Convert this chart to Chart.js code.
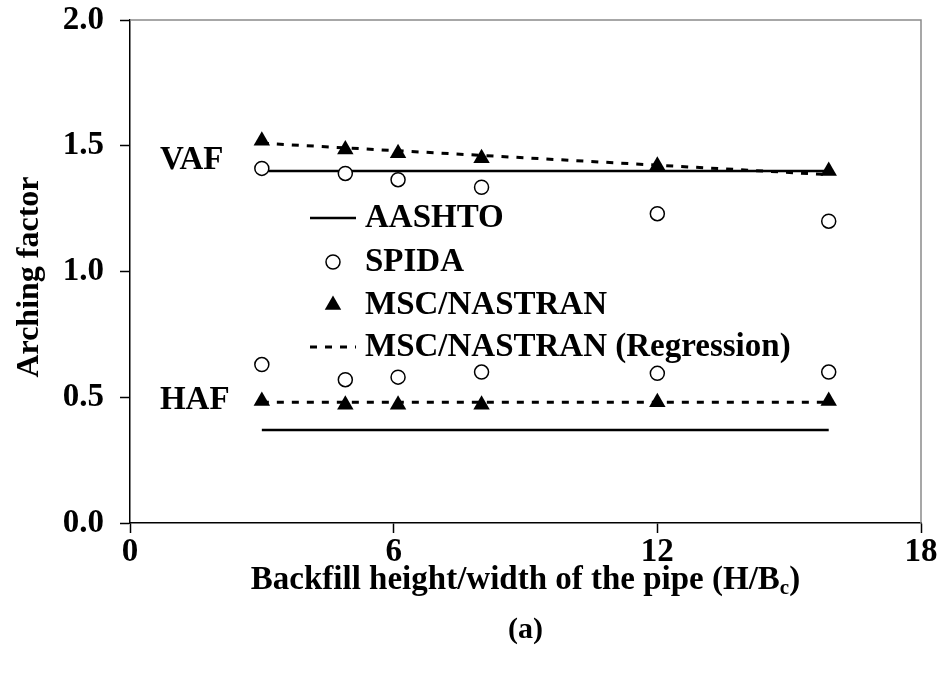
<!DOCTYPE html>
<html>
<head>
<meta charset="utf-8">
<script src="https://cdn.jsdelivr.net/npm/chart.js@4.4.0/dist/chart.umd.min.js"></script>
<style>
    html, body { margin: 0; padding: 0; background: #fff; }
    #wrap { width: 943px; height: 681px; }
</style>
</head>
<body>
<div id="wrap"><canvas id="archChart" width="943" height="681"></canvas></div>
<script>
// backfill height / pipe width (H/Bc)
const ratioX = [3, 4.9, 6.1, 8, 12, 15.9];

// vertical arching factor
const spidaVAF = [1.41, 1.39, 1.365, 1.335, 1.23, 1.20];
const nastranVAF = [1.52, 1.485, 1.47, 1.45, 1.42, 1.40];
// horizontal arching factor
const spidaHAF = [0.63, 0.57, 0.58, 0.60, 0.595, 0.60];
const nastranHAF = [0.485, 0.47, 0.47, 0.47, 0.48, 0.485];

// AASHTO design values and regression end points
const lineX = [3, 15.9];
const aashtoVAF = [1.40, 1.40];
const aashtoHAF = [0.37, 0.37];
const regVAF = [1.51, 1.385];
const regHAF = [0.48, 0.48];

const xTicks = [0, 6, 12, 18];
const yTicks = [0, 0.5, 1.0, 1.5, 2.0];

const legendNames = ["AASHTO", "SPIDA", "MSC/NASTRAN", "MSC/NASTRAN (Regression)"];
const groupLabels = [{ text: "VAF", x: 0.68, y: 1.443 }, { text: "HAF", x: 0.68, y: 0.487 }];

const serif = '"Liberation Serif", "Times New Roman", serif';

function pts(xs, ys) {
    return xs.map(function (x, i) { return { x: x, y: ys[i] }; });
}

const solidLine = { showLine: true, pointRadius: 0, borderColor: '#000', borderWidth: 2.5, fill: false };
const dashLine = { showLine: true, pointRadius: 0, borderColor: '#000', borderWidth: 3, borderDash: [7, 8], fill: false };
const circleMark = { showLine: false, pointStyle: 'circle', pointRadius: 7, backgroundColor: '#fff', borderColor: '#000', borderWidth: 1.5 };
const triMark = { showLine: false, pointStyle: 'triangle', pointRadius: 9.5, backgroundColor: '#000', borderColor: '#000', borderWidth: 0 };

const extras = {
    id: 'extras',
    afterDraw: function (chart) {
        const ctx = chart.ctx;
        const a = chart.chartArea;
        const xs = chart.scales.x, ys = chart.scales.y;
        ctx.save();

        // plot frame top & right
        ctx.strokeStyle = '#8a8a8a';
        ctx.lineWidth = 1.5;
        ctx.beginPath();
        ctx.moveTo(a.left, a.top);
        ctx.lineTo(a.right, a.top);
        ctx.lineTo(a.right, a.bottom);
        ctx.stroke();

        ctx.fillStyle = '#000';
        ctx.textBaseline = 'middle';

        // VAF / HAF
        ctx.font = 'bold 33px ' + serif;
        ctx.textAlign = 'left';
        groupLabels.forEach(function (g) {
            ctx.fillText(g.text, xs.getPixelForValue(g.x), ys.getPixelForValue(g.y));
        });

        // legend
        const rowY = [218, 262, 305, 347];
        const sx = a.left + 203;
        ctx.font = 'bold 33px ' + serif;
        legendNames.forEach(function (name, i) {
            const y = rowY[i];
            ctx.strokeStyle = '#000';
            ctx.fillStyle = '#000';
            if (i === 0 || i === 3) {
                ctx.lineWidth = i === 0 ? 2.5 : 3;
                ctx.setLineDash(i === 0 ? [] : [7, 8]);
                ctx.beginPath();
                ctx.moveTo(sx - 23, y);
                ctx.lineTo(sx + 23, y);
                ctx.stroke();
                ctx.setLineDash([]);
            } else if (i === 1) {
                ctx.fillStyle = '#fff';
                ctx.lineWidth = 1.5;
                Chart.helpers.drawPoint(ctx, { pointStyle: 'circle', radius: 7, borderWidth: 1.5, rotation: 0 }, sx, y);
            } else {
                ctx.lineWidth = 0;
                Chart.helpers.drawPoint(ctx, { pointStyle: 'triangle', radius: 9.5, borderWidth: 0, rotation: 0 }, sx, y);
            }
            ctx.fillStyle = '#000';
            ctx.fillText(name, sx + 32, y);
        });

        // y title
        ctx.save();
        ctx.translate(30, 277);
        ctx.rotate(-Math.PI / 2);
        ctx.textAlign = 'center';
        ctx.font = 'bold 32px ' + serif;
        ctx.fillText('Arching factor', 0, 0);
        ctx.restore();

        // x title with subscript
        const main = 'Backfill height/width of the pipe (H/B';
        ctx.font = 'bold 33px ' + serif;
        const w1 = ctx.measureText(main).width;
        const w3 = ctx.measureText(')').width;
        ctx.font = 'bold 21px ' + serif;
        const w2 = ctx.measureText('c').width;
        const cx = (a.left + a.right) / 2;
        let x0 = cx - (w1 + w2 + w3) / 2;
        const ty = 580;
        ctx.textAlign = 'left';
        ctx.font = 'bold 33px ' + serif;
        ctx.fillText(main, x0, ty);
        ctx.font = 'bold 21px ' + serif;
        ctx.fillText('c', x0 + w1, ty + 9);
        ctx.font = 'bold 33px ' + serif;
        ctx.fillText(')', x0 + w1 + w2, ty);

        ctx.textAlign = 'center';
        ctx.font = 'bold 30px ' + serif;
        ctx.fillText('(a)', cx, 630);

        ctx.restore();
    }
};

document.addEventListener("DOMContentLoaded", function () {
    let ctx = document.getElementById('archChart').getContext('2d');

    new Chart(ctx, {
        type: 'scatter',
        data: {
            datasets: [
                Object.assign({ label: 'SPIDA VAF', data: pts(ratioX, spidaVAF) }, circleMark),
                Object.assign({ label: 'SPIDA HAF', data: pts(ratioX, spidaHAF) }, circleMark),
                Object.assign({ label: 'NASTRAN VAF', data: pts(ratioX, nastranVAF) }, triMark),
                Object.assign({ label: 'NASTRAN HAF', data: pts(ratioX, nastranHAF) }, triMark),
                Object.assign({ label: 'AASHTO VAF', data: pts(lineX, aashtoVAF) }, solidLine),
                Object.assign({ label: 'AASHTO HAF', data: pts(lineX, aashtoHAF) }, solidLine),
                Object.assign({ label: 'Regression VAF', data: pts(lineX, regVAF) }, dashLine),
                Object.assign({ label: 'Regression HAF', data: pts(lineX, regHAF) }, dashLine)
            ]
        },
        options: {
            responsive: false,
            animation: false,
            devicePixelRatio: 1,
            layout: { padding: { top: 20, right: 22, left: 0, bottom: 0 } },
            plugins: {
                legend: { display: false },
                tooltip: { enabled: false }
            },
            scales: {
                x: {
                    type: 'linear',
                    min: 0,
                    max: 18,
                    afterBuildTicks: function (s) { s.ticks = xTicks.map(function (v) { return { value: v }; }); },
                    ticks: { color: '#000', padding: 0, font: { family: serif, size: 33, weight: 'bold' } },
                    grid: { drawOnChartArea: false, tickLength: 10, tickColor: '#000', tickWidth: 1.5 },
                    border: { color: '#000', width: 1.5 },
                    afterFit: function (s) { s.height = 158; s.paddingLeft = 0; s.paddingRight = 0; }
                },
                y: {
                    min: 0,
                    max: 2,
                    afterBuildTicks: function (s) { s.ticks = yTicks.map(function (v) { return { value: v }; }); },
                    ticks: {
                        color: '#000',
                        padding: 16,
                        font: { family: serif, size: 33, weight: 'bold' },
                        callback: function (v) { return v.toFixed(1); }
                    },
                    grid: { drawOnChartArea: false, tickLength: 10, tickColor: '#000', tickWidth: 1.5 },
                    border: { color: '#000', width: 1.5 },
                    afterFit: function (s) { s.width = 130; s.paddingTop = 0; s.paddingBottom = 0; }
                }
            }
        },
        plugins: [extras]
    });
});
</script>
</body>
</html>
